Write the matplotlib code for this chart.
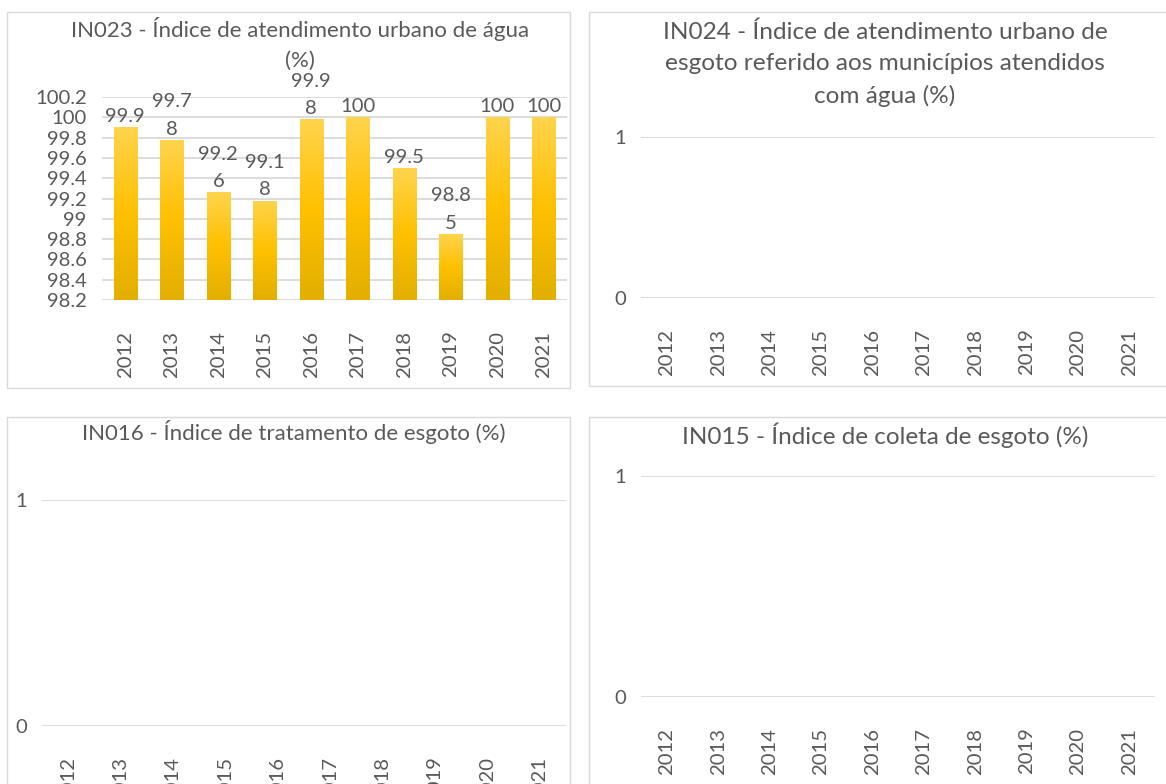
import matplotlib
matplotlib.use("Agg")
import matplotlib.pyplot as plt
import numpy as np
from matplotlib.patches import Rectangle
from matplotlib.colors import LinearSegmentedColormap

plt.rcParams['font.family'] = ['Lato', 'DejaVu Sans']

# data
years = ['2012', '2013', '2014', '2015', '2016', '2017', '2018', '2019', '2020', '2021']
in023 = [99.9, 99.78, 99.26, 99.18, 99.98, 100, 99.5, 98.85, 100, 100]
in023_ticks = [98.2, 98.4, 98.6, 98.8, 99, 99.2, 99.4, 99.6, 99.8, 100, 100.2]
empty_ticks = [0, 1]

title_023 = 'IN023 - Índice de atendimento urbano de água\n(%)'
title_024 = ('IN024 - Índice de atendimento urbano de\n'
             'esgoto referido aos municípios atendidos\ncom água (%)')
title_016 = 'IN016 - Índice de tratamento de esgoto (%)'
title_015 = 'IN015 - Índice de coleta de esgoto (%)'

W, H = 1166, 784
TXT = '#595959'
GRID = '#D9D9D9'
FS = 14.6      # ticks / data labels

fig = plt.figure(figsize=(W / 100, H / 100), dpi=100)


def box(x0, x1, y0, y1):
    # pixel box (top-left origin) -> figure fraction rect
    return [x0 / W, 1 - y1 / H, (x1 - x0) / W, (y1 - y0) / H]


def frame(x0, x1, y0, y1):
    r = Rectangle((x0 / W, 1 - y1 / H), (x1 - x0) / W, (y1 - y0) / H,
                  transform=fig.transFigure, fill=False, edgecolor=GRID, lw=1.0)
    fig.patches.append(r)


def setup(ax, ticks, labels):
    ax.set_xlim(-0.5, len(years) - 0.5)
    ax.set_ylim(ticks[0], ticks[-1])
    ax.set_yticks(ticks)
    ax.set_yticklabels(labels)
    ax.set_xticks(range(len(years)))
    ax.set_xticklabels(years, rotation=90, va='top', ha='center')
    for s in ax.spines.values():
        s.set_visible(False)
    ax.tick_params(length=0, colors=TXT, labelsize=FS)
    ax.tick_params(axis='y', pad=11)
    ax.tick_params(axis='x', pad=22)
    ax.yaxis.grid(True, color=GRID, lw=1.3)
    ax.set_axisbelow(True)
    ax.patch.set_alpha(0)


# panel frames
frame(7, 570, 12, 388)
frame(589, 1175, 12, 386)
frame(7, 570, 417, 800)
frame(589, 1175, 417, 800)

# IN023 bar chart
ax1 = fig.add_axes(box(102, 567, 97, 300))
setup(ax1, in023_ticks, ['{:g}'.format(t) for t in in023_ticks])
base = in023_ticks[0]
bars = ax1.bar(range(len(years)), [v - base for v in in023], bottom=base,
               width=0.5, color='none', edgecolor='none')
gold = LinearSegmentedColormap.from_list('gold', ['#E2AF00', '#FFC000', '#FFD44D'])
grad = np.linspace(0, 1, 256).reshape(-1, 1)
for b, v in zip(bars, in023):
    x, w = b.get_x(), b.get_width()
    im = ax1.imshow(grad, cmap=gold, aspect='auto', origin='lower',
                    extent=[x, x + w, base, v], zorder=2)
    im.set_clip_path(b)
    s = '{:g}'.format(v)
    if len(s) > 4:
        s = s[:4] + '\n' + s[4:]
    ax1.annotate(s, (b.get_x() + w / 2, v), xytext=(0, 1.5), textcoords='offset points',
                 ha='center', va='bottom', fontsize=FS, color=TXT, linespacing=1.75)
ax1.set_xlim(-0.5, len(years) - 0.5)
ax1.set_ylim(in023_ticks[0], in023_ticks[-1])

fig.text(300 / W, 1 - 44 / H, title_023, ha='center', va='center', fontsize=16.0,
         color=TXT, linespacing=1.65)

# IN024
ax2 = fig.add_axes(box(641, 1155, 137, 298))
setup(ax2, empty_ticks, ['0', '1'])
fig.text(885 / W, 1 - 64 / H, title_024, ha='center', va='center', fontsize=17.6,
         color=TXT, linespacing=1.6)

# IN016
ax3 = fig.add_axes(box(42, 566, 500, 726))
setup(ax3, empty_ticks, ['0', '1'])
fig.text(294 / W, 1 - 432 / H, title_016, ha='center', va='center', fontsize=16.0,
         color=TXT)

# IN015
ax4 = fig.add_axes(box(641, 1155, 476, 697))
setup(ax4, empty_ticks, ['0', '1'])
fig.text(885 / W, 1 - 435 / H, title_015, ha='center', va='center', fontsize=17.5,
         color=TXT)

fig.savefig('out.png', dpi=100, facecolor='white')
